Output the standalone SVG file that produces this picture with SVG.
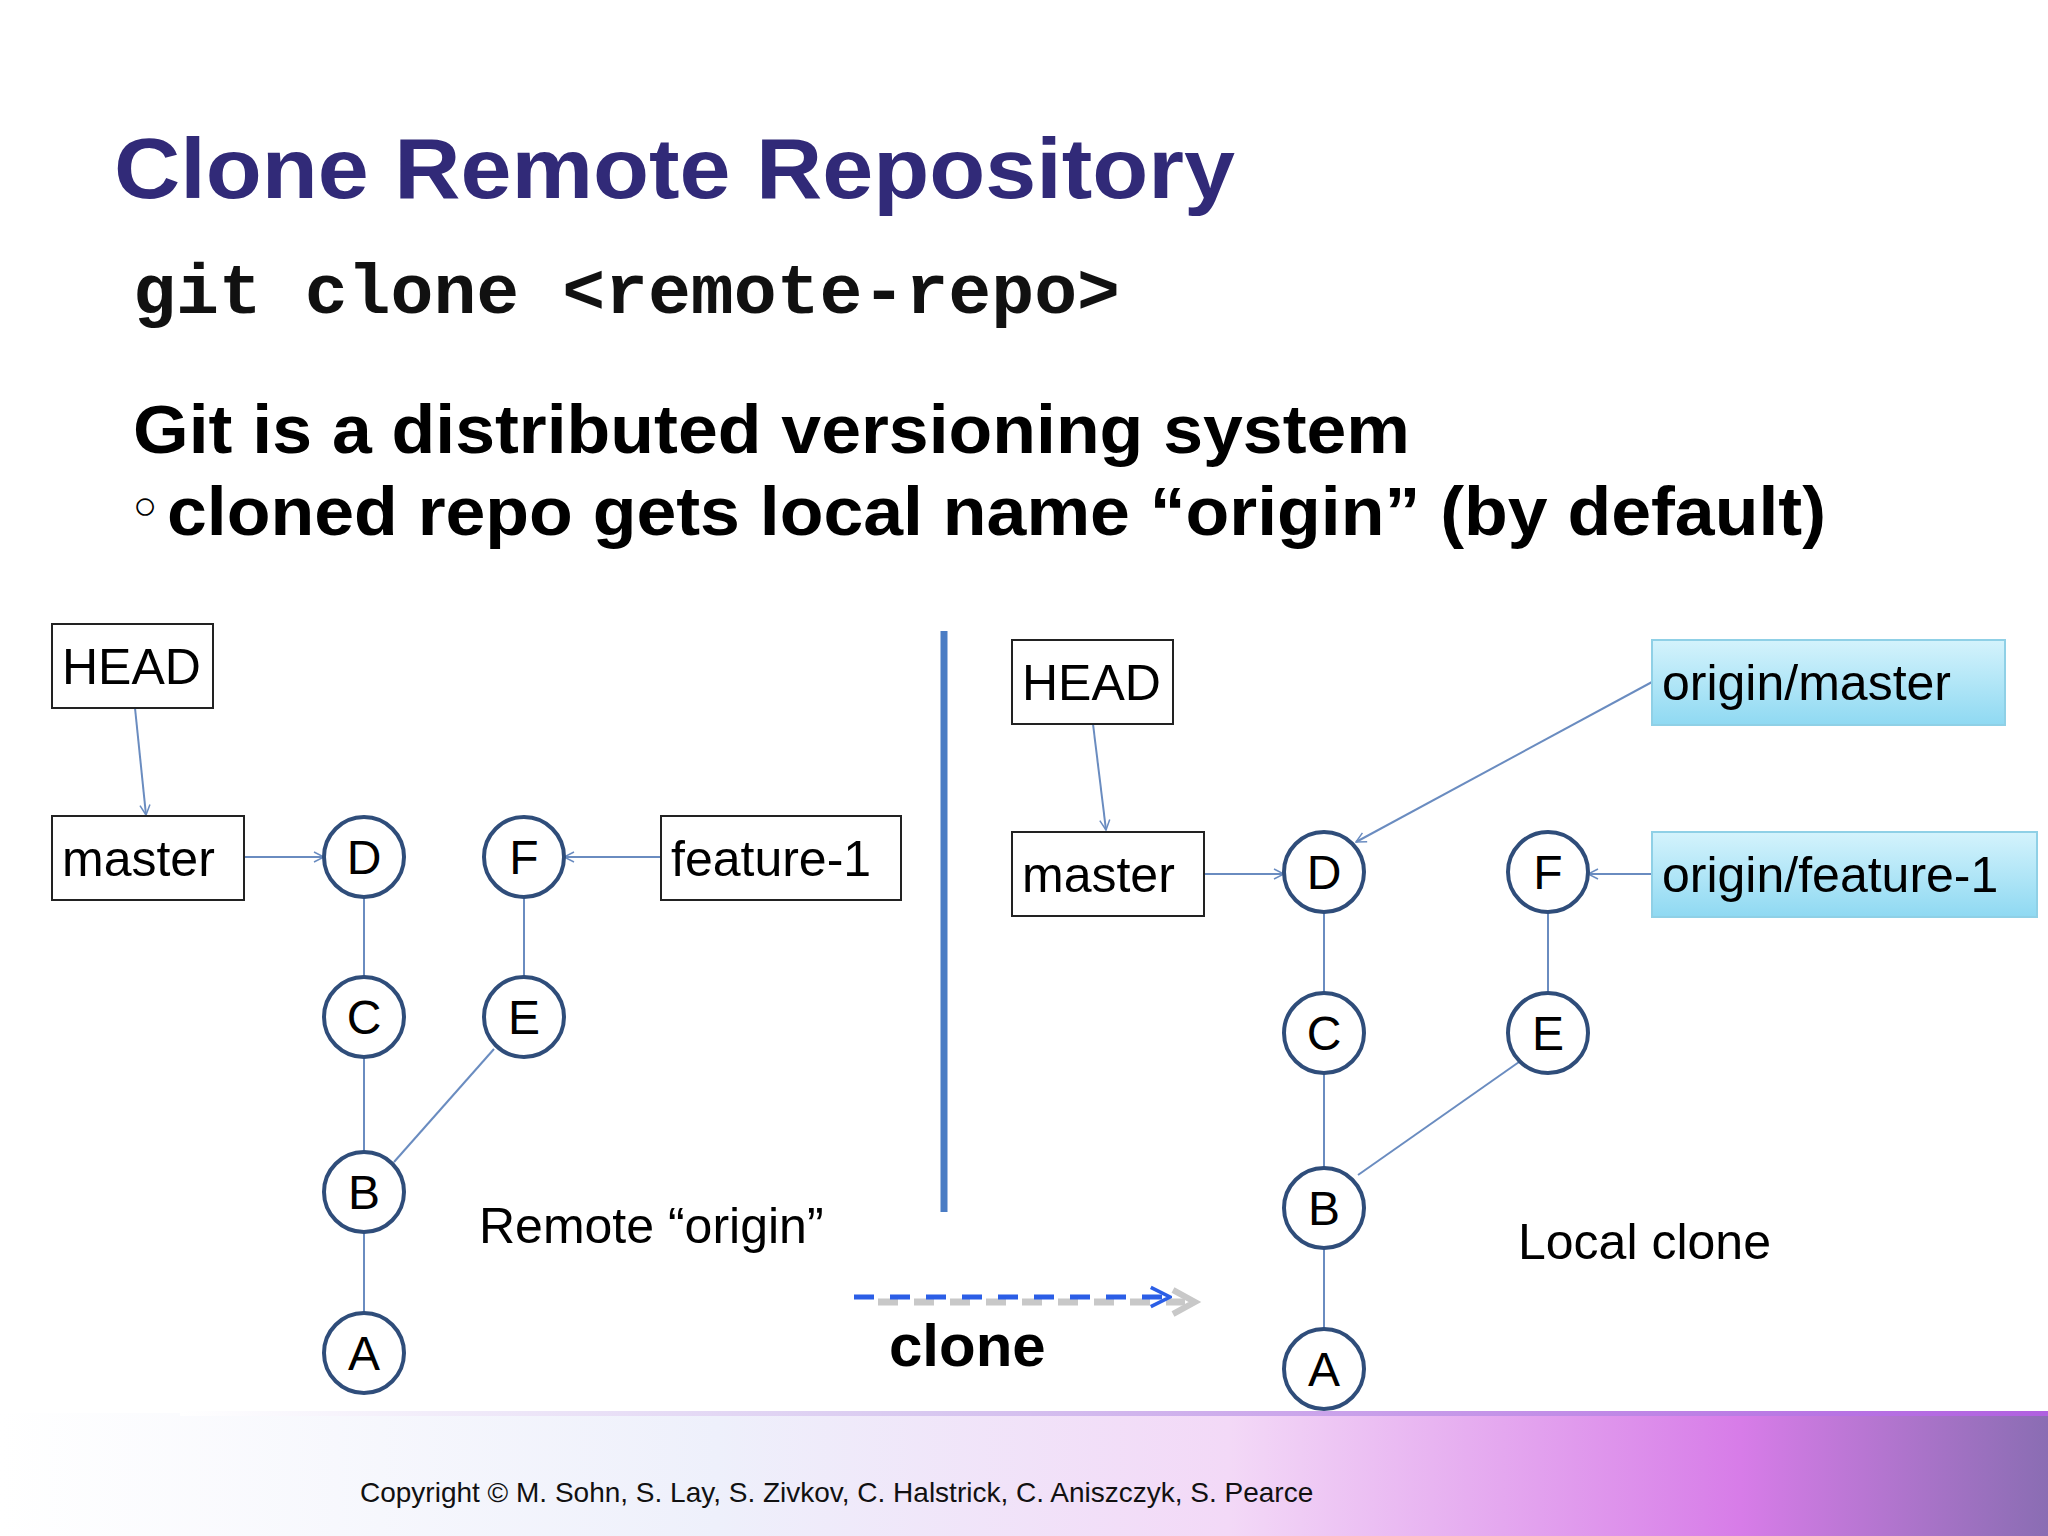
<svg xmlns="http://www.w3.org/2000/svg" width="2048" height="1536" viewBox="0 0 2048 1536">
<defs>
<linearGradient id="band" x1="0" y1="0" x2="1" y2="0">
<stop offset="0" stop-color="#ffffff"/><stop offset="0.35" stop-color="#eef0fb"/><stop offset="0.6" stop-color="#f3d9f7"/><stop offset="0.85" stop-color="#d77ce8"/><stop offset="1" stop-color="#8a6db3"/>
</linearGradient>
<linearGradient id="bline" x1="0" y1="0" x2="1" y2="0">
<stop offset="0" stop-color="#ffffff"/><stop offset="0.4" stop-color="#d8c8f0"/><stop offset="1" stop-color="#b060e0"/>
</linearGradient>
<linearGradient id="cyan" x1="0" y1="0" x2="0" y2="1">
<stop offset="0" stop-color="#d4f3fc"/><stop offset="1" stop-color="#8fd9f2"/>
</linearGradient>
<marker id="ah" viewBox="0 0 12 12" refX="11" refY="6" markerWidth="12" markerHeight="12" markerUnits="userSpaceOnUse" orient="auto">
<path d="M1,1 L11,6 L1,11" fill="none" stroke="#6a8cc0" stroke-width="1.5"/>
</marker>
<marker id="ab" viewBox="0 0 20 20" refX="18" refY="10" markerWidth="24" markerHeight="24" markerUnits="userSpaceOnUse" orient="auto">
<path d="M2,2 L18,10 L2,18" fill="none" stroke="#2b5ee6" stroke-width="3"/>
</marker>
</defs>
<style>
.box{fill:#fff;stroke:#222;stroke-width:2}
.cbox{fill:url(#cyan);stroke:#8fd0e6;stroke-width:2}
.lbl{font-family:"Liberation Sans",Arial,sans-serif;font-size:50px;fill:#000}
.node circle{fill:#fff;stroke:#2f4d7a;stroke-width:4}
.node text{font-family:"Liberation Sans",Arial,sans-serif;font-size:48px;fill:#000;text-anchor:middle}
.ln{stroke:#6a8cc0;stroke-width:2;fill:none}
</style>
<rect width="2048" height="1536" fill="#fff"/>
<rect x="0" y="1413" width="2048" height="123" fill="url(#band)"/>
<rect x="180" y="1411" width="1868" height="5" fill="url(#bline)"/>
<text x="114" y="198" font-family="Liberation Sans,Arial,sans-serif" font-weight="bold" font-size="86" fill="#312a78" textLength="1121" lengthAdjust="spacingAndGlyphs">Clone Remote Repository</text>
<text x="133" y="313" font-family="Liberation Mono,Courier New,monospace" font-weight="bold" font-size="71" fill="#111" textLength="987" lengthAdjust="spacingAndGlyphs">git clone &lt;remote-repo&gt;</text>
<text x="133" y="453" font-family="Liberation Sans,Arial,sans-serif" font-weight="bold" font-size="69" fill="#000" textLength="1277" lengthAdjust="spacingAndGlyphs">Git is a distributed versioning system</text>
<text x="133" y="519" font-family="Liberation Sans,Arial,sans-serif" font-size="40" fill="#000">○</text>
<text x="167" y="535" font-family="Liberation Sans,Arial,sans-serif" font-weight="bold" font-size="69" fill="#000" textLength="1659" lengthAdjust="spacingAndGlyphs">cloned repo gets local name “origin” (by default)</text>
<g id="connectors">
<line class="ln" x1="135" y1="708" x2="146" y2="815" marker-end="url(#ah)"/>
<line class="ln" x1="244" y1="857" x2="324" y2="857" marker-end="url(#ah)"/>
<line class="ln" x1="661" y1="857" x2="564" y2="857" marker-end="url(#ah)"/>
<line class="ln" x1="364" y1="897" x2="364" y2="977"/>
<line class="ln" x1="364" y1="1057" x2="364" y2="1152"/>
<line class="ln" x1="364" y1="1232" x2="364" y2="1313"/>
<line class="ln" x1="524" y1="897" x2="524" y2="977"/>
<line class="ln" x1="494" y1="1049" x2="394" y2="1162"/>
<line class="ln" x1="1093" y1="724" x2="1106" y2="830" marker-end="url(#ah)"/>
<line class="ln" x1="1204" y1="874" x2="1284" y2="874" marker-end="url(#ah)"/>
<line class="ln" x1="1652" y1="682" x2="1356" y2="842" marker-end="url(#ah)"/>
<line class="ln" x1="1652" y1="874" x2="1588" y2="874" marker-end="url(#ah)"/>
<line class="ln" x1="1324" y1="912" x2="1324" y2="993"/>
<line class="ln" x1="1324" y1="1073" x2="1324" y2="1168"/>
<line class="ln" x1="1324" y1="1248" x2="1324" y2="1329"/>
<line class="ln" x1="1548" y1="912" x2="1548" y2="993"/>
<line class="ln" x1="1519" y1="1062" x2="1358" y2="1175"/>
<line x1="944" y1="631" x2="944" y2="1212" stroke="#4a7cc4" stroke-width="7"/>
<path d="M878,1302 H1185" stroke="#c8c8c8" stroke-width="7" stroke-dasharray="20,16" fill="none"/>
<path d="M1173,1290 L1195,1302 L1173,1314" stroke="#c8c8c8" stroke-width="6" fill="none"/>
<line x1="854" y1="1297" x2="1170" y2="1297" stroke="#2b5ee6" stroke-width="5" stroke-dasharray="20,16" marker-end="url(#ab)"/>
</g>
<g id="head-l"><rect class="box" x="52" y="624" width="161" height="84"/><text class="lbl" x="62" y="684">HEAD</text></g>
<g id="master-l"><rect class="box" x="52" y="816" width="192" height="84"/><text class="lbl" x="62" y="876">master</text></g>
<g id="feature-l"><rect class="box" x="661" y="816" width="240" height="84"/><text class="lbl" x="671" y="876">feature-1</text></g>
<g id="D-l" class="node"><circle cx="364" cy="857" r="40"/><text x="364" y="874">D</text></g>
<g id="C-l" class="node"><circle cx="364" cy="1017" r="40"/><text x="364" y="1034">C</text></g>
<g id="B-l" class="node"><circle cx="364" cy="1192" r="40"/><text x="364" y="1209">B</text></g>
<g id="A-l" class="node"><circle cx="364" cy="1353" r="40"/><text x="364" y="1370">A</text></g>
<g id="F-l" class="node"><circle cx="524" cy="857" r="40"/><text x="524" y="874">F</text></g>
<g id="E-l" class="node"><circle cx="524" cy="1017" r="40"/><text x="524" y="1034">E</text></g>
<text class="lbl" x="479" y="1243">Remote “origin”</text>
<text x="889" y="1366" font-family="Liberation Sans,Arial,sans-serif" font-weight="bold" font-size="60" fill="#000">clone</text>
<g id="head-r"><rect class="box" x="1012" y="640" width="161" height="84"/><text class="lbl" x="1022" y="700">HEAD</text></g>
<g id="master-r"><rect class="box" x="1012" y="832" width="192" height="84"/><text class="lbl" x="1022" y="892">master</text></g>
<g id="om"><rect class="cbox" x="1652" y="640" width="353" height="85"/><text class="lbl" x="1662" y="700">origin/master</text></g>
<g id="of"><rect class="cbox" x="1652" y="832" width="385" height="85"/><text class="lbl" x="1662" y="892">origin/feature-1</text></g>
<g id="D-r" class="node"><circle cx="1324" cy="872" r="40"/><text x="1324" y="889">D</text></g>
<g id="C-r" class="node"><circle cx="1324" cy="1033" r="40"/><text x="1324" y="1050">C</text></g>
<g id="B-r" class="node"><circle cx="1324" cy="1208" r="40"/><text x="1324" y="1225">B</text></g>
<g id="A-r" class="node"><circle cx="1324" cy="1369" r="40"/><text x="1324" y="1386">A</text></g>
<g id="F-r" class="node"><circle cx="1548" cy="872" r="40"/><text x="1548" y="889">F</text></g>
<g id="E-r" class="node"><circle cx="1548" cy="1033" r="40"/><text x="1548" y="1050">E</text></g>
<text class="lbl" x="1518" y="1259">Local clone</text>
<text x="360" y="1502" font-family="Liberation Sans,Arial,sans-serif" font-size="28" fill="#111">Copyright © M. Sohn, S. Lay, S. Zivkov, C. Halstrick, C. Aniszczyk, S. Pearce</text>
</svg>
